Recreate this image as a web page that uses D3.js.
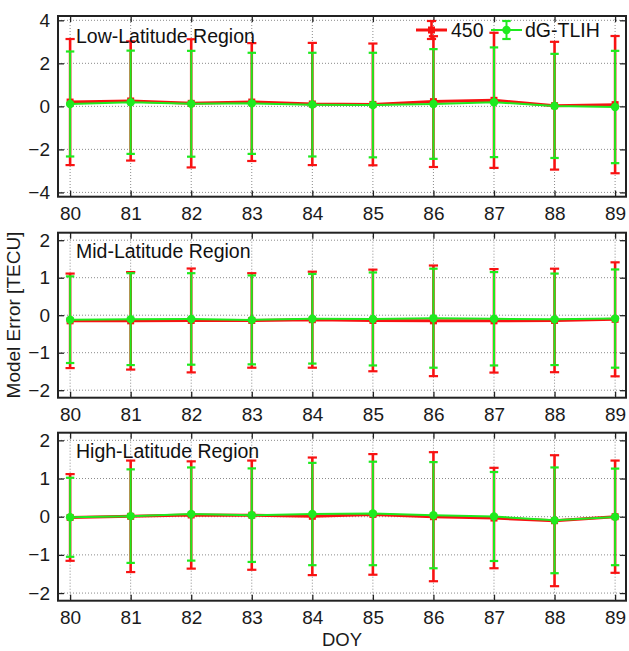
<!DOCTYPE html>
<html>
<head>
<meta charset="utf-8">
<script src="https://cdn.jsdelivr.net/npm/d3@7"></script>
<style>
  html, body { margin: 0; padding: 0; background: #fff; }
  svg { display: block; font-family: "Liberation Sans", Arial, sans-serif; }
</style>
</head>
<body>
<svg id="chart" width="629" height="651"></svg>
<script>
// Day of year
const days = [80, 81, 82, 83, 84, 85, 86, 87, 88, 89];

// Low-latitude region: mean error and standard deviation [TECU]
const lowMean450  = [0.20, 0.25, 0.14, 0.20, 0.11, 0.09, 0.22, 0.28, 0.03, 0.08];
const lowSd450    = [2.93, 2.77, 2.98, 2.74, 2.84, 2.83, 3.04, 3.14, 2.97, 3.19];
const lowMeanTLIH = [0.11, 0.19, 0.12, 0.14, 0.08, 0.06, 0.11, 0.19, 0.02, -0.03];
const lowSdTLIH   = [2.44, 2.40, 2.46, 2.35, 2.41, 2.43, 2.55, 2.55, 2.42, 2.61];

// Mid-latitude region
const midMean450  = [-0.15, -0.15, -0.14, -0.14, -0.12, -0.14, -0.15, -0.15, -0.14, -0.11];
const midSd450    = [1.26, 1.30, 1.385, 1.26, 1.28, 1.355, 1.475, 1.38, 1.38, 1.52];
const midMeanTLIH = [-0.12, -0.105, -0.10, -0.125, -0.095, -0.10, -0.08, -0.095, -0.11, -0.09];
const midSdTLIH   = [1.155, 1.225, 1.22, 1.185, 1.195, 1.24, 1.32, 1.245, 1.22, 1.31];

// High-latitude region
const highMean450  = [-0.02, 0.01, 0.045, 0.04, 0.01, 0.06, 0.0, -0.035, -0.105, 0.0];
const highSd450    = [1.135, 1.46, 1.405, 1.43, 1.54, 1.58, 1.69, 1.315, 1.715, 1.47];
const highMeanTLIH = [-0.015, 0.015, 0.07, 0.04, 0.07, 0.085, 0.04, 0.005, -0.095, -0.005];
const highSdTLIH   = [1.035, 1.225, 1.22, 1.225, 1.34, 1.355, 1.39, 1.165, 1.385, 1.265];

const regionNames = ["Low-Latitude Region", "Mid-Latitude Region", "High-Latitude Region"];
const seriesNames = ["450", "dG-TLIH"];
const lowTicks = [-4, -2, 0, 2, 4];
const midHighTicks = [-2, -1, 0, 1, 2];
const yLabel = "Model Error [TECU]";
const xLabel = "DOY";

const RED = "#f81212";
const GREEN = "#1eea1e";
const FONT = 19;

const svg = d3.select("#chart");
const left = 58, right = 626;
const x = d3.scaleLinear().domain([79.8, 89.18]).range([left, right]);

const panels = [
  { name: regionNames[0], top: 16,    bottom: 196.7, domain: [-4.2, 4.2], ticks: lowTicks,
    s: [[lowMean450, lowSd450], [lowMeanTLIH, lowSdTLIH]], titleDy: 27.3, legend: true },
  { name: regionNames[1], top: 232.7, bottom: 397.7, domain: [-2.2, 2.2], ticks: midHighTicks,
    s: [[midMean450, midSd450], [midMeanTLIH, midSdTLIH]], titleDy: 24.8 },
  { name: regionNames[2], top: 432.7, bottom: 600.7, domain: [-2.2, 2.2], ticks: midHighTicks,
    s: [[highMean450, highSd450], [highMeanTLIH, highSdTLIH]], titleDy: 25 }
];

const styles = [
  { color: RED,   line: 3,   bar: 2.6, cap: 4.6, marker: "square", size: 7 },
  { color: GREEN, line: 2,   bar: 2,   cap: 4.2, marker: "circle", size: 4.2 }
];

function drawMarker(g, st, cx, cy) {
  if (st.marker === "square") {
    g.append("rect").attr("x", cx - st.size / 2).attr("y", cy - st.size / 2)
      .attr("width", st.size).attr("height", st.size).attr("fill", st.color);
  } else {
    g.append("circle").attr("cx", cx).attr("cy", cy).attr("r", st.size).attr("fill", st.color);
  }
}

function errorBar(g, st, cx, y0, y1) {
  g.append("line").attr("x1", cx).attr("x2", cx).attr("y1", y0).attr("y2", y1)
    .attr("stroke", st.color).attr("stroke-width", st.bar);
  [y0, y1].forEach(yy => g.append("line")
    .attr("x1", cx - st.cap).attr("x2", cx + st.cap).attr("y1", yy).attr("y2", yy)
    .attr("stroke", st.color).attr("stroke-width", 2.2));
}

panels.forEach(p => {
  const y = d3.scaleLinear().domain(p.domain).range([p.bottom, p.top]);
  const g = svg.append("g");

  // dotted grid
  const grid = g.append("g").attr("stroke", "#8a8a8a").attr("stroke-width", 1)
    .attr("stroke-dasharray", "1,2");
  days.forEach(d => grid.append("line").attr("x1", x(d)).attr("x2", x(d))
    .attr("y1", p.top).attr("y2", p.bottom));
  p.ticks.forEach(t => grid.append("line").attr("x1", left).attr("x2", right)
    .attr("y1", y(t)).attr("y2", y(t)));

  // series: lines, error bars, markers
  p.s.forEach((ser, i) => {
    const st = styles[i];
    const [mean, sd] = ser;
    const pts = days.map((d, k) => ({ d, m: mean[k], s: sd[k] }));
    g.append("path").datum(pts)
      .attr("d", d3.line().x(v => x(v.d)).y(v => y(v.m)))
      .attr("fill", "none").attr("stroke", st.color).attr("stroke-width", st.line);
    pts.forEach(v => errorBar(g, st, x(v.d), y(v.m - v.s), y(v.m + v.s)));
    pts.forEach(v => drawMarker(g, st, x(v.d), y(v.m)));
  });

  // frame with inward ticks on all four sides
  const axL = d3.axisLeft(y).tickValues(p.ticks).tickSize(-6).tickPadding(8).tickFormat(d3.format("d"));
  const axR = d3.axisRight(y).tickValues(p.ticks).tickSize(-6).tickFormat("");
  const axB = d3.axisBottom(x).tickValues(days).tickSize(-6).tickPadding(10).tickFormat(d3.format("d"));
  const axT = d3.axisTop(x).tickValues(days).tickSize(-6).tickFormat("");
  const gl = g.append("g").attr("transform", `translate(${left},0)`).call(axL);
  const gr = g.append("g").attr("transform", `translate(${right},0)`).call(axR);
  const gb = g.append("g").attr("transform", `translate(0,${p.bottom})`).call(axB);
  const gt = g.append("g").attr("transform", `translate(0,${p.top})`).call(axT);
  [gl, gr, gb, gt].forEach(a => {
    a.select(".domain").remove();
    a.selectAll(".tick line").attr("stroke", "#222").attr("stroke-width", 1.3);
    a.selectAll("text").attr("font-size", FONT).attr("fill", "#1a1a1a")
      .attr("font-family", "Liberation Sans, Arial, sans-serif");
  });
  gb.selectAll("text").attr("dy", "0.71em");
  g.append("rect").attr("x", left).attr("y", p.top)
    .attr("width", right - left).attr("height", p.bottom - p.top)
    .attr("fill", "none").attr("stroke", "#222").attr("stroke-width", 2);

  // region title
  g.append("text").attr("x", 76).attr("y", p.top + p.titleDy)
    .attr("font-size", 19.5).attr("fill", "#111").text(p.name);

  // legend
  if (p.legend) {
    const ly = 30;
    const items = [
      { st: styles[0], x0: 416, x1: 447, tx: 451, label: seriesNames[0] },
      { st: styles[1], x0: 491, x1: 522, tx: 525, label: seriesNames[1] }
    ];
    items.forEach(it => {
      const cx = (it.x0 + it.x1) / 2;
      g.append("line").attr("x1", it.x0).attr("x2", it.x1).attr("y1", ly).attr("y2", ly)
        .attr("stroke", it.st.color).attr("stroke-width", it.st.line);
      errorBar(g, it.st, cx, ly - 9, ly + 9);
      drawMarker(g, it.st, cx, ly);
      g.append("text").attr("x", it.tx).attr("y", 37).attr("font-size", 19.5)
        .attr("fill", "#111").text(it.label);
    });
  }
});

// axis titles
svg.append("text").attr("transform", "translate(19.5,315) rotate(-90)")
  .attr("text-anchor", "middle").attr("font-size", 19).attr("fill", "#1a1a1a").text(yLabel);
svg.append("text").attr("x", (left + right) / 2).attr("y", 646)
  .attr("text-anchor", "middle").attr("font-size", 18.5).attr("fill", "#1a1a1a").text(xLabel);
</script>
</body>
</html>
